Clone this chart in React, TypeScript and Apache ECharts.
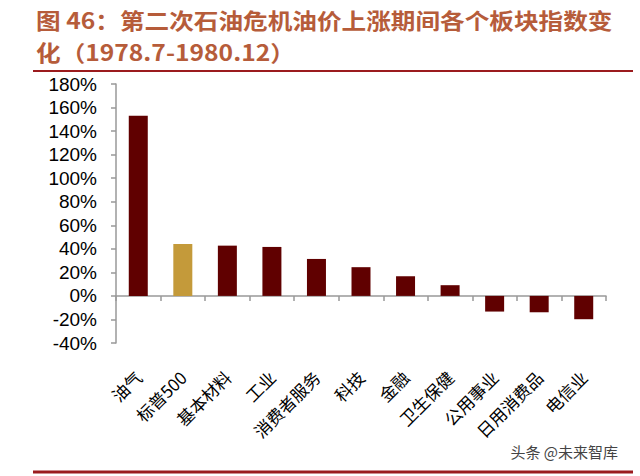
import React, { useEffect, useRef } from "react";
import * as echarts from "echarts";

const categories = ["油气", "标普500", "基本材料", "工业", "消费者服务", "科技", "金融", "卫生保健", "公用事业", "日用消费品", "电信业"];
const values = [153, 44, 42.7, 41.6, 31.4, 24.4, 16.7, 9.1, -13.3, -13.9, -19.8];
const highlightCategory = "标普500";
const titleText = "图 46：第二次石油危机油价上涨期间各个板块指数变\n化（1978.7-1980.12）";
const watermark = "头条 @未来智库";

export default function App() {
  const ref = useRef<HTMLDivElement>(null);
  useEffect(() => {
    if (!ref.current) return;
    const chart = echarts.init(ref.current, null, { renderer: "svg" });
    chart.setOption({
      animation: false,
      backgroundColor: "#ffffff",
      graphic: [
        {
          type: "text",
          x: 36,
          y: 4,
          scaleX: 1.12,
          style: {
            text: titleText,
            fontFamily: "Noto Sans CJK SC",
            fontSize: 22,
            fontWeight: "bold",
            fill: "#B65C3A",
            lineHeight: 32,
            verticalAlign: "top",
          },
        },
        {
          type: "line",
          shape: { x1: 33, y1: 71, x2: 633, y2: 71 },
          style: { stroke: "#9B1B1E", lineWidth: 2 },
        },
        {
          type: "line",
          shape: { x1: 33, y1: 472, x2: 633, y2: 472 },
          style: { stroke: "#9B1B1E", lineWidth: 3 },
        },
        {
          type: "text",
          right: 22,
          top: 444,
          style: {
            text: watermark,
            fontFamily: "Noto Sans CJK SC",
            fontSize: 15,
            fill: "#444",
          },
        },
      ],
      grid: { left: 116, right: 34, top: 84, bottom: 133, containLabel: false, outerBoundsMode: "none" },
      xAxis: {
        type: "category",
        data: categories,
        axisLine: { onZero: true, lineStyle: { color: "#999", width: 1.5 } },
        axisTick: { show: true, length: 5, lineStyle: { color: "#999", width: 1.5 } },
        axisLabel: {
          rotate: 45,
          margin: 31,
          fontFamily: "Noto Sans CJK SC",
          fontSize: 17,
          color: "#000",
          interval: 0,
        },
      },
      yAxis: {
        type: "value",
        min: -40,
        max: 180,
        interval: 20,
        axisLine: { show: true, lineStyle: { color: "#999", width: 1.5 } },
        axisTick: { show: true, length: 5, lineStyle: { color: "#999", width: 1.5 } },
        splitLine: { show: false },
        axisLabel: {
          formatter: "{value}%",
          margin: 19,
          fontFamily: "Liberation Sans",
          fontSize: 19,
          color: "#000",
        },
      },
      series: [
        {
          type: "bar",
          barWidth: 19,
          data: values.map((v, i) => ({
            value: v,
            itemStyle: { color: categories[i] === highlightCategory ? "#C49A3A" : "#600000" },
          })),
        },
      ],
    });
    return () => chart.dispose();
  }, []);
  return <div ref={ref} style={{ width: 640, height: 476, position: "absolute", left: 0, top: 0 }} />;
}
